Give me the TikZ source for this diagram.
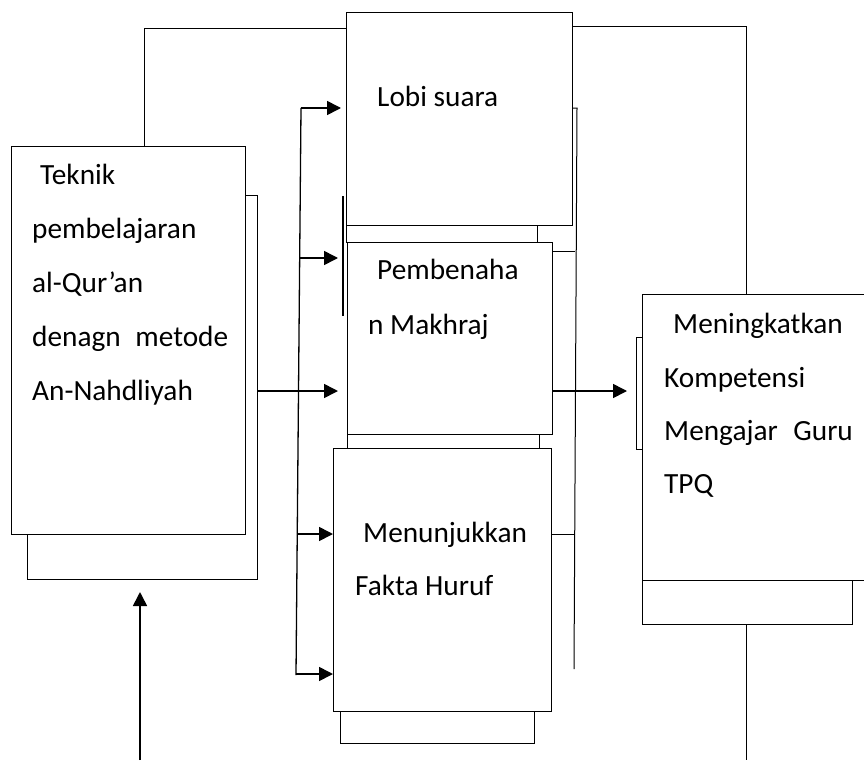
\documentclass[tikz,border=0pt]{standalone}
\usepackage{fontspec}
\setmainfont{Carlito}
\usetikzlibrary{arrows.meta}
\begin{document}
\begin{tikzpicture}[x=1pt,y=-1pt,
  box/.style={draw=black,line width=1pt,fill=white},
  ln/.style={draw=black,line width=1pt},
  arr/.style={draw=black,line width=1.6pt,-{Triangle[length=14pt,width=14pt]}},
  txt/.style={anchor=base west,inner sep=0pt,font=\fontsize{29.3}{33}\selectfont}]
\useasboundingbox (0,0) rectangle (864,760);
% left box
\draw[box] (27,195) rectangle (257,579);
\draw[box] (11,146) rectangle (245,534);
\node[txt] (t1) at (40,184) {Teknik};
\node[txt] (t2) at (32,238) {pembelajaran};
\node[txt] (t3) at (32,292) {al-Qur’an};
\node[txt] (t4) at (32,346) {denagn\hspace{8pt} metode};
\node[txt] (t5) at (32,400) {An-Nahdliyah};
\coordinate (lbtop) at (144,146);
\coordinate (lbright) at (257,391);
\coordinate (lbbot) at (140,592);
% Lobi box
\draw[box] (346,30) rectangle (537,242);
\draw[box] (346,13) rectangle (572,225);
\node[txt] (l1) at (377,106) {Lobi suara};
% Pembenahan
\draw[ln,line width=1.5pt] (343,196) -- (343,316);
\draw[box] (347,260) rectangle (539,448);
\draw[box] (347,242) rectangle (552,434);
\node[txt] (p1) at (377,279) {Pembenaha};
\node[txt] (p2) at (368,334) {n Makhraj};
% Menunjukkan
\draw[box] (340,470) rectangle (534,743);
\draw[box] (333,448) rectangle (551,711);
\node[txt] (m1) at (363,542) {Menunjukkan};
\node[txt] (m2) at (355,595) {Fakta Huruf};
% Meningkatkan
\draw[box] (642,320) rectangle (852,624);
\draw[box] (636,337) rectangle (642,449);
\draw[box] (642,294) rectangle (875,580);
\node[txt] (k1) at (673,333) {Meningkatkan};
\node[txt] (k2) at (664,387) {Kompetensi};
\node[txt] (k3) at (664,440) {Mengajar\hspace{9pt} Guru};
\node[txt] (k4) at (664,493) {TPQ};
% connectors
\draw[ln] (lbtop) -- (144,29) -- (346,29);
\draw[ln] (572,27) -- (746,27) -- (746,294);
\draw[ln] (746,624) -- (746,760);
\draw[arr] (140,760) -- (lbbot);
\draw[ln] (572,108) -- (577,108) -- (574,669);
\draw[ln] (552,251) -- (575,251);
\draw[ln] (551,534) -- (574,534);
\draw[arr] (552,391) -- (627,391);
% bracket
\draw[ln,line width=1.3pt] (301,108) -- (296,675);
\draw[arr] (301,108) -- (341,108);
\draw[arr] (300,258) -- (338,258);
\draw[arr] (lbright) -- (338,391);
\draw[arr] (297,534) -- (333,534);
\draw[arr] (296,674) -- (333,674);
\end{tikzpicture}
\end{document}
